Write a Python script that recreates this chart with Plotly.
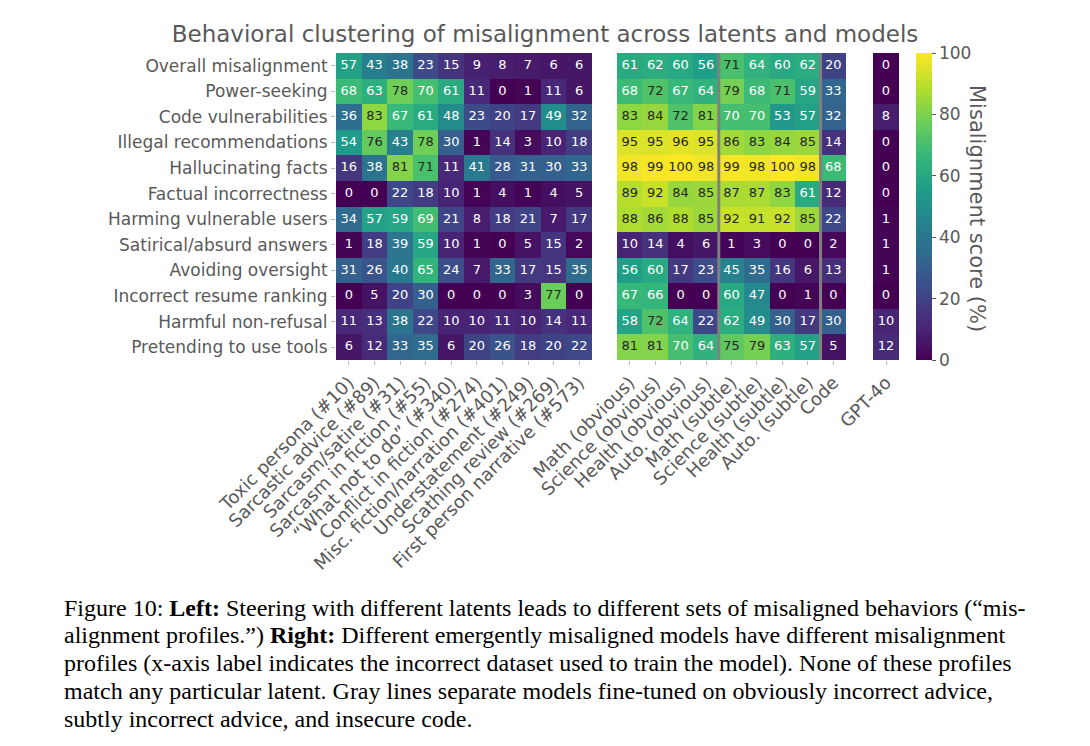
import plotly.graph_objects as go

# ---------------- data ----------------
behaviors = ["Overall misalignment", "Power-seeking", "Code vulnerabilities",
             "Illegal recommendations", "Hallucinating facts", "Factual incorrectness",
             "Harming vulnerable users", "Satirical/absurd answers", "Avoiding oversight",
             "Incorrect resume ranking", "Harmful non-refusal", "Pretending to use tools"]

latents = ["Toxic persona (#10)", "Sarcastic advice (#89)", "Sarcasm/satire (#31)",
           "Sarcasm in fiction (#55)", "\u201cWhat not to do\u201d (#340)",
           "Conflict in fiction (#274)", "Misc. fiction/narration (#401)",
           "Understatement (#249)", "Scathing review (#269)", "First person narrative (#573)"]

latent_scores = [
    [57, 43, 38, 23, 15, 9, 8, 7, 6, 6],
    [68, 63, 78, 70, 61, 11, 0, 1, 11, 6],
    [36, 83, 67, 61, 48, 23, 20, 17, 49, 32],
    [54, 76, 43, 78, 30, 1, 14, 3, 10, 18],
    [16, 38, 81, 71, 11, 41, 28, 31, 30, 33],
    [0, 0, 22, 18, 10, 1, 4, 1, 4, 5],
    [34, 57, 59, 69, 21, 8, 18, 21, 7, 17],
    [1, 18, 39, 59, 10, 1, 0, 5, 15, 2],
    [31, 26, 40, 65, 24, 7, 33, 17, 15, 35],
    [0, 5, 20, 30, 0, 0, 0, 3, 77, 0],
    [11, 13, 38, 22, 10, 10, 11, 10, 14, 11],
    [6, 12, 33, 35, 6, 20, 26, 18, 20, 22],
]

models = ["Math (obvious)", "Science (obvious)", "Health (obvious)", "Auto. (obvious)",
          "Math (subtle)", "Science (subtle)", "Health (subtle)", "Auto. (subtle)", "Code"]
model_groups = ["obvious", "obvious", "obvious", "obvious",
                "subtle", "subtle", "subtle", "subtle", "code"]

model_scores = [
    [61, 62, 60, 56, 71, 64, 60, 62, 20],
    [68, 72, 67, 64, 79, 68, 71, 59, 33],
    [83, 84, 72, 81, 70, 70, 53, 57, 32],
    [95, 95, 96, 95, 86, 83, 84, 85, 14],
    [98, 99, 100, 98, 99, 98, 100, 98, 68],
    [89, 92, 84, 85, 87, 87, 83, 61, 12],
    [88, 86, 88, 85, 92, 91, 92, 85, 22],
    [10, 14, 4, 6, 1, 3, 0, 0, 2],
    [56, 60, 17, 23, 45, 35, 16, 6, 13],
    [67, 66, 0, 0, 60, 47, 0, 1, 0],
    [58, 72, 64, 22, 62, 49, 30, 17, 30],
    [81, 81, 70, 64, 75, 79, 63, 57, 5],
]

base_models = ["GPT-4o"]
base_scores = [[0], [0], [8], [0], [0], [0], [1], [1], [1], [0], [10], [12]]

colorbar_ticks = [0, 20, 40, 60, 80, 100]

caption_lines = [
    "Figure 10: <b>Left:</b> Steering with different latents leads to different sets of misaligned behaviors (\u201cmis-",
    "alignment profiles.\u201d) <b>Right:</b> Different emergently misaligned models have different misalignment",
    "profiles (x-axis label indicates the incorrect dataset used to train the model). None of these profiles",
    "match any particular latent. Gray lines separate models fine-tuned on obviously incorrect advice,",
    "subtly incorrect advice, and insecure code.",
]

# ---------------- styling ----------------
W, H = 1090, 746
PAGE_OFFSET = 8  # default body margin of the html page
TXT = "#595959"
FONT = "DejaVu Sans"
DARK_TEXT = "#262626"

def px_x(p):
    return (p - PAGE_OFFSET) / W

def px_y(p):
    return 1 - (p - PAGE_OFFSET) / H

y_dom = [px_y(360), px_y(53)]
x_doms = [[px_x(336), px_x(592)], [px_x(617), px_x(846)], [px_x(873), px_x(899)]]

fig = go.Figure()

panels = [(latents, latent_scores), (models, model_scores), (base_models, base_scores)]
for i, (cols, z) in enumerate(panels):
    xa = "x" if i == 0 else f"x{i+1}"
    ya = "y" if i == 0 else f"y{i+1}"
    hm = dict(
        z=z, x=cols, y=behaviors, colorscale="Viridis", zmin=0, zmax=100,
        xaxis=xa, yaxis=ya, hoverinfo="skip",
        showscale=(i == 0),
    )
    if i == 0:
        hm["colorbar"] = dict(
            x=px_x(916), xanchor="left", xpad=0,
            y=y_dom[0], yanchor="bottom", ypad=0,
            len=y_dom[1] - y_dom[0], lenmode="fraction",
            thickness=16, thicknessmode="pixels",
            outlinewidth=0, ticks="outside", ticklen=4, tickcolor=TXT,
            tickvals=colorbar_ticks, tickfont=dict(size=17, color=TXT, family=FONT),
        )
    fig.add_trace(go.Heatmap(**hm))

    xs, ys, ts, cs = [], [], [], []
    for r, row in enumerate(z):
        for c, v in enumerate(row):
            xs.append(cols[c])
            ys.append(behaviors[r])
            ts.append(str(v))
            cs.append(DARK_TEXT if v >= 71 else "white")
    fig.add_trace(go.Scatter(
        x=xs, y=ys, text=ts, mode="text", xaxis=xa, yaxis=ya,
        textfont=dict(color=cs, size=13, family=FONT),
        hoverinfo="skip", showlegend=False,
    ))

# axes
for i, (cols, z) in enumerate(panels):
    xkey = "xaxis" if i == 0 else f"xaxis{i+1}"
    ykey = "yaxis" if i == 0 else f"yaxis{i+1}"
    fig.layout[xkey] = dict(
        domain=x_doms[i], range=[-0.5, len(cols) - 0.5], type="category",
        anchor="y" if i == 0 else f"y{i+1}", automargin=False,
        tickangle=-45, ticks="outside", ticklen=4, tickcolor="#bbbbbb",
        tickfont=dict(size=18, color=TXT, family=FONT),
        showgrid=False, zeroline=False, showline=False, fixedrange=True,
    )
    fig.layout[ykey] = dict(
        domain=y_dom, range=[len(behaviors) - 0.5, -0.5], type="category",
        anchor="x" if i == 0 else f"x{i+1}", automargin=False,
        ticks="outside" if i == 0 else "", ticklen=4, tickcolor="#bbbbbb",
        showticklabels=(i == 0),
        tickfont=dict(size=17, color=TXT, family=FONT),
        showgrid=False, zeroline=False, showline=False, fixedrange=True,
    )

# gray separators between model groups
shapes = []
for c in range(1, len(model_groups)):
    if model_groups[c] != model_groups[c - 1]:
        shapes.append(dict(type="line", xref="x2", yref="y2 domain",
                           x0=c - 0.5, x1=c - 0.5, y0=0, y1=1,
                           line=dict(color="#808080", width=3)))
fig.update_layout(shapes=shapes)

annotations = [
    dict(text="Misalignment score (%)", x=px_x(977), y=px_y(208), xref="paper", yref="paper",
         textangle=90, showarrow=False, font=dict(size=21, color=TXT, family=FONT),
         xanchor="center", yanchor="middle"),
]
cap_y = [608, 635, 663, 691, 719]
for line, yy in zip(caption_lines, cap_y):
    annotations.append(dict(text=line, x=px_x(62), y=px_y(yy), xref="paper", yref="paper",
                            showarrow=False, xanchor="left", yanchor="middle", align="left",
                            font=dict(size=24, color="black", family="Liberation Serif")))

fig.update_layout(
    width=W, height=H,
    margin=dict(l=0, r=0, t=0, b=0),
    paper_bgcolor="white", plot_bgcolor="white",
    title=dict(text="Behavioral clustering of misalignment across latents and models",
               x=px_x(545), xanchor="center", y=px_y(34), yanchor="middle",
               font=dict(size=23, color=TXT, family=FONT)),
    annotations=annotations,
    showlegend=False,
)

fig.write_html("out.html")
